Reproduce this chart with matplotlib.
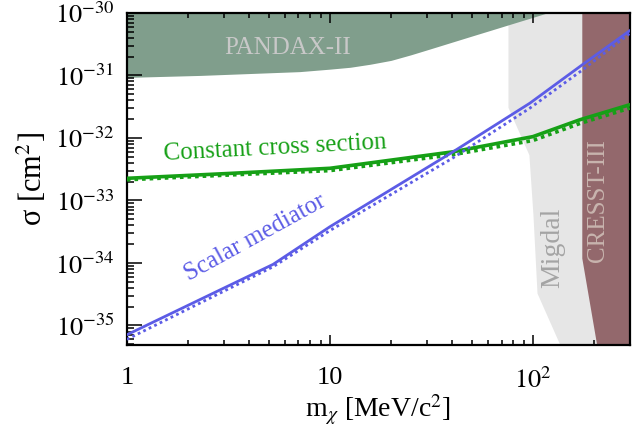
import matplotlib
matplotlib.use('Agg')
import matplotlib.pyplot as plt
import numpy as np
from matplotlib.ticker import LogLocator, NullFormatter

plt.rcParams['font.family'] = ['Liberation Serif', 'DejaVu Serif']
plt.rcParams['mathtext.fontset'] = 'stix'

# excluded regions
pandax_mass = [1, 2.3, 7.1, 10, 12.6, 15.8, 20, 25.1, 31.6, 39.8, 50.1, 63.1, 79.4, 100, 117.5]
pandax_sigma = [9.3e-32, 1.0e-31, 1.15e-31, 1.26e-31, 1.35e-31, 1.51e-31, 1.74e-31, 2.14e-31,
                2.69e-31, 3.39e-31, 4.27e-31, 5.37e-31, 6.76e-31, 8.5e-31, 1.0e-30]

migdal_mass = [75.3, 75.3, 95.5, 100, 104.7, 135.8]
migdal_sigma = [1e-30, 3.1e-32, 5.4e-33, 5.9e-34, 3.3e-35, 4.9e-36]

cresst_mass = [174, 174, 206]
cresst_sigma = [1e-30, 1.2e-34, 4.9e-36]

# projected sensitivity curves
const_mass = [1, 3.16, 10, 40.4, 100, 170, 300]
const_sigma = [2.26e-33, 2.7e-33, 3.27e-33, 6.0e-33, 1.05e-32, 1.95e-32, 3.4e-32]
const_sigma_dot = [2.14e-33, 2.55e-33, 3.0e-33, 5.4e-33, 9.1e-33, 1.7e-32, 3.0e-32]

scalar_mass = [1, 5.25, 10, 40.4, 96.6, 174, 300]
scalar_sigma = [7.1e-36, 9.5e-35, 3.8e-34, 6.0e-33, 3.6e-32, 1.46e-31, 5.2e-31]
scalar_sigma_dot = [6.0e-36, 8.7e-35, 3.3e-34, 4.8e-33, 3.0e-32, 1.2e-31, 4.7e-31]

x_ticks = [1, 10, 100]
x_ticklabels = ['1', '10', r'$10^{2}$']
y_ticks = [1e-35, 1e-34, 1e-33, 1e-32, 1e-31, 1e-30]
y_ticklabels = [r'$10^{-35}$', r'$10^{-34}$', r'$10^{-33}$',
                r'$10^{-32}$', r'$10^{-31}$', r'$10^{-30}$']

xmin, xmax = 1, 300
ymin, ymax = 4.9e-36, 1e-30

green = '#16a016'
blue = '#5c5ce6'

fig = plt.figure(figsize=(6.44, 4.30), dpi=100)
ax = fig.add_axes([0.197, 0.198, 0.781, 0.772])

ax.set_xscale('log')
ax.set_yscale('log')

ax.fill_betweenx(migdal_sigma, migdal_mass, xmax, color='#e6e6e6', lw=0, zorder=1)
ax.fill_between(pandax_mass, pandax_sigma, ymax, color='#809e8c', lw=0, zorder=1.5)
ax.fill_betweenx(cresst_sigma, cresst_mass, xmax, color='#93686c', lw=0, zorder=2)

ax.plot(const_mass, const_sigma, color=green, lw=2.6, zorder=4)
ax.plot(const_mass, const_sigma_dot, color=green, lw=2.6, ls=(0, (1, 1.1)), zorder=4)
ax.plot(scalar_mass, scalar_sigma, color=blue, lw=2.0, zorder=4)
ax.plot(scalar_mass, scalar_sigma_dot, color=blue, lw=2.0, ls=(0, (1, 1.2)), zorder=4)

# labels on the plot
ax.text(6.2, 2.75e-31, 'PANDAX-II', color='#c8c8c8', fontsize=18,
        ha='center', va='center', zorder=3)
ax.text(5.4, 6.9e-33, 'Constant cross section', color=green, fontsize=18,
        ha='center', va='center', rotation=3, rotation_mode='anchor', zorder=5)
ax.text(4.27, 2.5e-34, 'Scalar mediator', color=blue, fontsize=18,
        ha='center', va='center', rotation=28.8, rotation_mode='anchor', zorder=5)
ax.text(125, 1.74e-34, 'Migdal', color='#a4a4a4', fontsize=20,
        ha='center', va='center', rotation=90, zorder=3)
ax.text(209, 1.0e-33, 'CRESST-III', color='#c8b4ae', fontsize=18,
        ha='center', va='center', rotation=90, zorder=3)

ax.set_xlim(xmin, xmax)
ax.set_ylim(ymin, ymax)

ax.set_xticks(x_ticks)
ax.set_xticklabels(x_ticklabels)
ax.set_yticks(y_ticks)
ax.set_yticklabels(y_ticklabels)
ax.xaxis.set_minor_locator(LogLocator(base=10, subs=np.arange(2, 10), numticks=100))
ax.yaxis.set_minor_locator(LogLocator(base=10, subs=np.arange(2, 10), numticks=100))
ax.xaxis.set_minor_formatter(NullFormatter())
ax.yaxis.set_minor_formatter(NullFormatter())

ax.tick_params(which='both', direction='in', top=True, right=True, labelsize=19, width=1.1)
ax.tick_params(axis='y', which='major', length=11, pad=9)
ax.tick_params(axis='y', which='minor', length=5)
ax.tick_params(axis='x', which='major', length=7, pad=16)
ax.tick_params(axis='x', which='minor', length=3.5)

for s in ax.spines.values():
    s.set_linewidth(1.6)

ax.set_xlabel(r'm$_{\chi}$ [MeV/c$^{2}$]', fontsize=20, labelpad=0)
ax.set_ylabel(r'σ [cm$^{2}$]', fontsize=22, labelpad=4)

fig.savefig('out.png', dpi=100)
